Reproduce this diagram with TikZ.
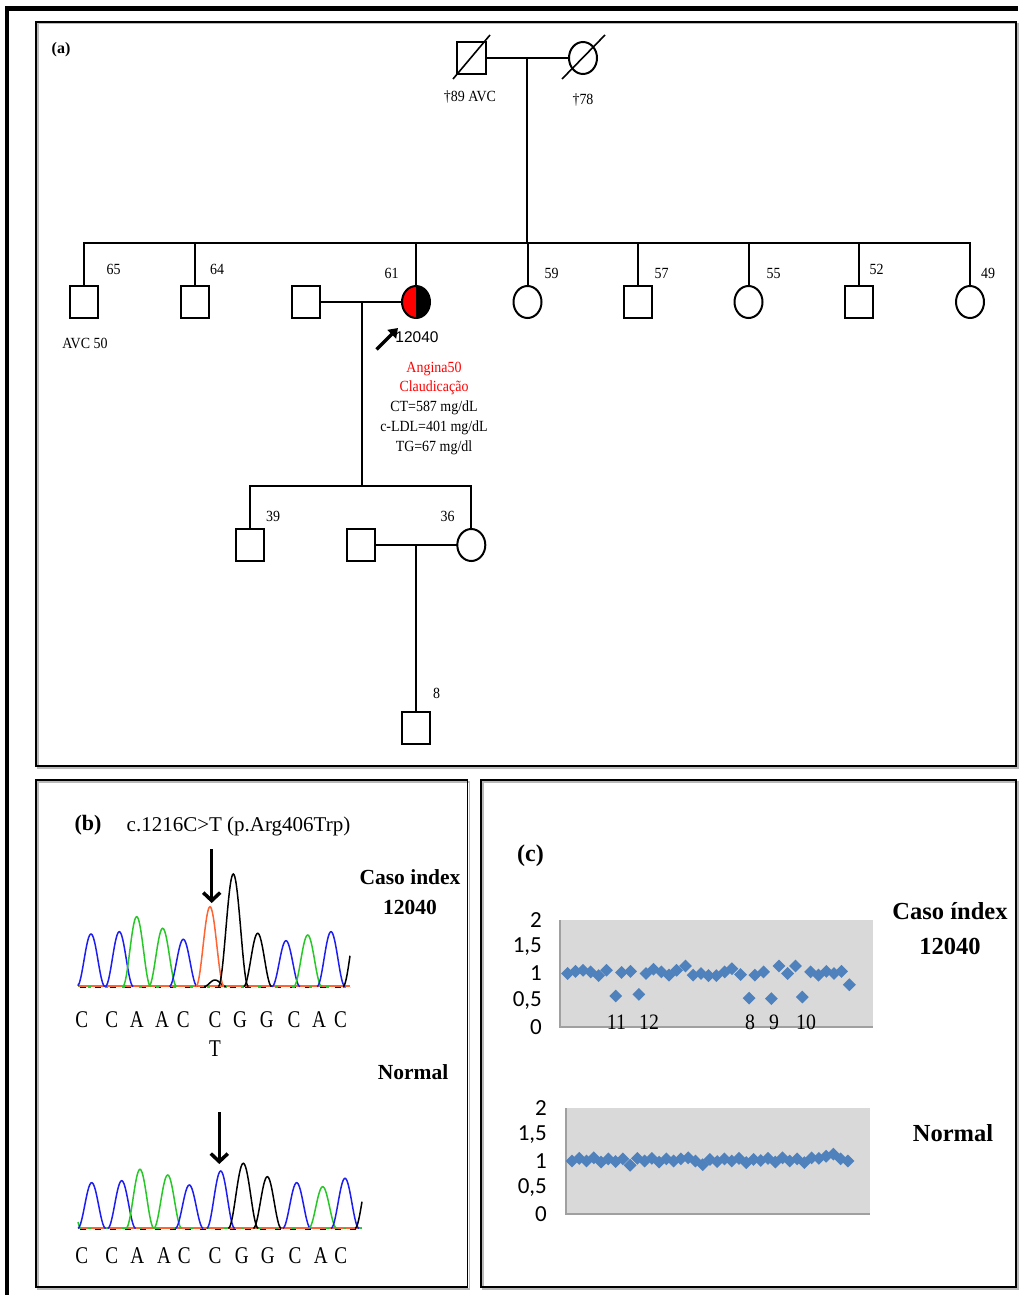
\documentclass[tikz,border=0pt]{standalone}
\usepackage{fontspec}
\setmainfont{Liberation Serif}
\newfontfamily\pedf[FakeStretch=0.9]{Liberation Serif}
\newfontfamily\seqf[FakeStretch=0.8]{Liberation Serif}
\newfontfamily\arialf{Liberation Sans}
\newfontfamily\calf{Carlito}
\usetikzlibrary{shapes.geometric,arrows.meta}
\definecolor{chrBlue}{RGB}{30,30,240}
\definecolor{chrGreen}{RGB}{40,200,40}
\definecolor{chrOrange}{RGB}{255,100,50}
\definecolor{ptBlue}{RGB}{79,129,189}
\definecolor{plotGray}{RGB}{217,217,217}
\definecolor{axGray}{RGB}{160,160,160}
% color, center, top, base, half base width, lo, hi
\newcommand{\chrpk}[7]{%
  \draw[#1, line width=1.5pt] plot[domain=#6:#7, samples=41, smooth] (\x,{#4-(#4-#3)*(cos(90*(\x-#2)/#5))^2});}
\tikzset{
  sq/.style={draw, line width=2pt, rectangle, minimum width=28pt, minimum height=32pt, inner sep=0pt},
  ci/.style={draw, line width=2pt, ellipse, minimum width=28pt, minimum height=32pt, inner sep=0pt},
  pline/.style={line width=2pt, line cap=rect},
  plab/.style={font=\pedf\fontsize{15.5}{18}\selectfont, inner sep=0pt, text height=10.5pt, text depth=3pt},
  panelbox/.style={draw, line width=1.8pt},
  panelshadow/.style={draw=gray!55, line width=1.4pt},
  bigbold/.style={font=\bfseries\fontsize{21.5}{24}\selectfont, inner sep=0pt},
  cbold/.style={font=\bfseries\fontsize{24.5}{27}\selectfont, inner sep=0pt},
  plabel/.style={font=\bfseries\fontsize{22}{24}\selectfont, inner sep=0pt},
  seq/.style={font=\seqf\fontsize{24}{26}\selectfont, inner sep=0pt},
  axl/.style={font=\calf\fontsize{23}{25}\selectfont, inner sep=0pt, anchor=east},
  exl/.style={font=\pedf\fontsize{22}{24}\selectfont, inner sep=0pt},
  dia/.style={diamond, fill=ptBlue, minimum width=13pt, minimum height=13pt, inner sep=0pt},
  bigarrow/.style={line width=3.5pt, -{Straight Barb[length=8pt,width=17pt,line width=3.5pt]}},
}
\begin{document}
\begin{tikzpicture}[x=1pt,y=-1pt]
\fill[white] (0,0) rectangle (1018,1295);
\useasboundingbox (0,0) rectangle (1018,1295);

% frames
\draw[line width=4.5pt] (7,1295) -- (7,8.5) -- (1018,8.5);
\draw[panelshadow] (37.8,23.8) rectangle (1017.8,767.8);
\draw[panelbox] (36,22) rectangle (1016,766);
\draw[panelshadow] (37.8,781.8) rectangle (469.3,1288.8);
\draw[panelbox] (36,780) rectangle (467.5,1287);
\draw[panelshadow] (482.8,781.8) rectangle (1017.8,1288.8);
\draw[panelbox] (481,780) rectangle (1016,1287);

% ===== (a) pedigree =====
\node[font=\bfseries\fontsize{16}{18}\selectfont, inner sep=0pt] (la) at (61,50) {(a)};

\node[sq, minimum width=29pt] (gf) at (471,58) {};
\node[ci] (gm) at (583,58) {};
\draw[line width=1.6pt] ([shift={(-18,21)}]gf.center) -- ([shift={(19,-23)}]gf.center);
\draw[line width=1.6pt] ([shift={(-21,21)}]gm.center) -- ([shift={(22,-23)}]gm.center);
\node[plab] (tgf) at (470,98) {†89 AVC};
\node[plab] (tgm) at (583,101) {†78};

\coordinate (m1) at (527,58);
\coordinate (sib1) at (527,243);
\draw[pline] (gf.east) -- (gm.west);
\draw[pline] (m1) -- (sib1);

\node[sq] (c65) at (84,302) {};
\node[sq] (c64) at (194.5,302) {};
\node[sq] (sp1) at (305.5,302) {};
\node[ci, path picture={\fill[red] (path picture bounding box.south west) rectangle (path picture bounding box.north);
   \fill[black] (path picture bounding box.south) rectangle (path picture bounding box.north east);}] (pb) at (416,302) {};
\node[ci] (c59) at (527.5,302) {};
\node[sq] (c57) at (638,302) {};
\node[ci] (c55) at (748.5,302) {};
\node[sq] (c52) at (859,302) {};
\node[ci] (c49) at (970,302) {};

\draw[pline] (c65.north |- sib1) -- (c49.north |- sib1);
\foreach \n in {c65,c64,pb,c57,c55,c52,c49} \draw[pline] (\n.north) -- (\n.north |- sib1);
\draw[pline] (c59.north) -- (c59.north |- sib1);

\node[plab] (a65) at (113.5,271) {65};
\node[plab] (a64) at (217,271) {64};
\node[plab] (a61) at (391.5,275) {61};
\node[plab] (a59) at (551.5,275) {59};
\node[plab] (a57) at (661.5,275) {57};
\node[plab] (a55) at (773.5,275) {55};
\node[plab] (a52) at (876.5,271) {52};
\node[plab] (a49) at (988,275) {49};
\node[plab] (avc) at (85,345) {AVC 50};

% proband
\coordinate (pa1) at (376.5,349.5);
\coordinate (pa2) at (398,328);
\draw[line width=3.5pt, -{Triangle[length=9pt,width=12pt]}] (pa1) -- (pa2);
\node[font=\arialf\fontsize{15.5}{17}\selectfont, inner sep=0pt] (pid) at (417,337) {12040};
\node[plab, text=red] (cl1) at (434,368.5) {Angina50};
\node[plab, text=red] (cl2) at (434,388) {Claudicação};
\node[plab] (cl3) at (434,407.5) {CT=587 mg/dL};
\node[plab] (cl4) at (434,427.5) {c-LDL=401 mg/dL};
\node[plab] (cl5) at (434,447.5) {TG=67 mg/dl};

% generation III
\coordinate (m2) at (361.5,302);
\coordinate (sib2) at (361.5,486);
\draw[pline] (sp1.east) -- (pb.west);
\draw[pline] (m2) -- (sib2);
\node[sq] (g39) at (250,545) {};
\node[sq] (sp2) at (360.5,545) {};
\node[ci] (d36) at (471.3,545) {};
\draw[pline] (g39.north |- sib2) -- (d36.north |- sib2);
\draw[pline] (g39.north) -- (g39.north |- sib2);
\draw[pline] (d36.north) -- (d36.north |- sib2);
\node[plab] (a39) at (273,518) {39};
\node[plab] (a36) at (447.5,518) {36};

\coordinate (m3) at (416,546);
\draw[pline] (sp2.east) -- (d36.west);
\node[sq] (s8) at (416,727.5) {};
\draw[pline] (m3) -- (s8.north);
\node[plab] (a8) at (436.5,695) {8};

% ===== (b) chromatograms =====
\node[plabel] (lb) at (88,825) {(b)};
\node[font=\fontsize{21}{23}\selectfont, inner sep=0pt] (mut) at (238.5,826) {c.1216C>T (p.Arg406Trp)};
\node[bigbold] (ci1) at (410,877) {Caso index};
\node[bigbold] (ci2) at (410,907) {12040};
\node[bigbold] (nb) at (413,1072) {Normal};

% chromatogram 1, baseline 986.5
\draw[chrOrange, line width=1.8pt] (78,986) -- (350,986);
\draw[black, line width=1.6pt, dash pattern=on 6pt off 9pt] (80,987.5) -- (350,987.5);
\draw[chrGreen, line width=1.3pt, dash pattern=on 3pt off 14pt] (88,987) -- (350,987);
\chrpk{chrGreen}{66}{930}{986.5}{14}{78}{80}
\chrpk{chrBlue}{91}{934}{986.5}{14}{78}{105}
\chrpk{chrBlue}{119.3}{931.7}{986.5}{14}{105.3}{133.3}
\chrpk{chrGreen}{136.7}{916.7}{986.5}{14}{122.7}{150.7}
\chrpk{chrGreen}{162.7}{928.3}{986.5}{14}{148.7}{176.7}
\chrpk{chrBlue}{183.3}{939.3}{986.5}{14}{169.3}{197.3}
\chrpk{black}{215}{980}{986.5}{11}{204}{226}
\chrpk{chrOrange}{210}{906.7}{986.5}{14}{196}{224}
\chrpk{black}{233.3}{874}{986.5}{15}{218.3}{248.3}
\chrpk{black}{257.7}{933.3}{986.5}{14}{243.7}{271.7}
\chrpk{chrBlue}{286}{940.7}{986.5}{14}{272}{300}
\chrpk{chrGreen}{307.7}{935}{986.5}{14}{293.7}{321.7}
\chrpk{chrBlue}{331}{931.7}{986.5}{14}{317}{345}
\chrpk{black}{357}{925}{986.5}{14}{343}{350}
\coordinate (ar1s) at (211.7,849);
\coordinate (ar1e) at (211.7,903);
\draw[bigarrow] (ar1s) -- (ar1e);
\foreach \xx/\ll [count=\k] in {81.7/C,111.7/C,136.7/A,162/A,183.3/C,215/C,240/G,266.7/G,294/C,319/A,340.5/C}
  \node[seq] (sa\k) at (\xx,1020) {\ll};
\node[seq] (sT) at (215,1049) {T};

% chromatogram 2, baseline 1228.3
\draw[chrOrange, line width=1.8pt] (78,1227.8) -- (362,1227.8);
\draw[black, line width=1.6pt, dash pattern=on 6pt off 9pt] (80,1229.3) -- (362,1229.3);
\draw[chrGreen, line width=1.3pt, dash pattern=on 3pt off 14pt] (88,1228.8) -- (362,1228.8);
\chrpk{chrGreen}{67}{1170}{1228.3}{14}{78}{81}
\chrpk{chrBlue}{91.7}{1182.7}{1228.3}{14}{78}{105.7}
\chrpk{chrBlue}{121.7}{1180.7}{1228.3}{14}{107.7}{135.7}
\chrpk{chrGreen}{140}{1169.3}{1228.3}{14}{126}{154}
\chrpk{chrGreen}{167.7}{1175}{1228.3}{14}{153.7}{181.7}
\chrpk{chrBlue}{189.3}{1185}{1228.3}{14}{175.3}{203.3}
\chrpk{chrBlue}{220.7}{1171}{1228.3}{14}{206.7}{234.7}
\chrpk{black}{243.3}{1163.3}{1228.3}{15}{228.3}{258.3}
\chrpk{black}{267.3}{1176.7}{1228.3}{14}{253.3}{281.3}
\chrpk{chrBlue}{296.7}{1182.7}{1228.3}{14}{282.7}{310.7}
\chrpk{chrGreen}{322.7}{1186.7}{1228.3}{14}{308.7}{336.7}
\chrpk{chrBlue}{345}{1178.3}{1228.3}{14}{331}{359}
\chrpk{black}{369}{1175}{1228.3}{14}{355}{362}
\coordinate (ar2s) at (219.3,1112);
\coordinate (ar2e) at (219.3,1164);
\draw[bigarrow] (ar2s) -- (ar2e);
\foreach \xx/\ll [count=\k] in {81.7/C,111.7/C,137.3/A,164/A,184.3/C,215/C,241.7/G,267.7/G,295/C,320.7/A,340.7/C}
  \node[seq] (sb\k) at (\xx,1256) {\ll};

% ===== (c) dosage plots =====
\node[font=\bfseries\fontsize{24}{26}\selectfont, inner sep=0pt] (lc) at (530.5,856) {(c)};
\node[cbold] (cc1) at (950,911) {Caso índex};
\node[cbold] (cc2) at (950,946) {12040};
\node[cbold] (nc) at (953,1133) {Normal};

% plot 1
\fill[plotGray] (560,920) rectangle (873,1027);
\draw[axGray, line width=1.3pt] (560,920) -- (560,1027) -- (873,1027);
\node[axl] (y12) at (542,920) {2};
\node[axl] (y115) at (542,946.8) {1,5};
\node[axl] (y11) at (542,973.5) {1};
\node[axl] (y105) at (542,1000.3) {0,5};
\node[axl] (y10) at (542,1027) {0};
\foreach \xx/\v [count=\k] in {567.6/1.00,575.5/1.04,583.1/1.06,590.7/1.03,598.6/0.96,606.5/1.06,615.7/0.58,621.6/1.02,630.5/1.04,638.8/0.61,646.0/1.00,653.5/1.08,661.4/1.03,669.0/0.97,676.6/1.06,685.5/1.14,693.1/0.97,701.0/1.00,708.5/0.96,716.4/0.96,724.7/1.03,731.9/1.09,740.5/0.98,749.1/0.54,754.9/0.97,763.5/1.03,771.4/0.53,779.0/1.14,787.6/1.00,795.5/1.14,802.3/0.56,810.6/1.03,818.5/0.97,826.4/1.04,834.0/1.00,841.5/1.04,849.4/0.79}
  \node[dia] (dA\k) at (\xx,{1027-\v*53.5}) {};
\node[exl] (e11) at (616.5,1022) {11};
\node[exl] (e12) at (649,1022) {12};
\node[exl] (e8) at (750,1022) {8};
\node[exl] (e9) at (774,1022) {9};
\node[exl] (e10) at (806,1022) {10};

% plot 2
\fill[plotGray] (566,1108) rectangle (870,1214);
\draw[axGray, line width=1.3pt] (566,1108) -- (566,1214) -- (870,1214);
\node[axl] (y22) at (547,1108) {2};
\node[axl] (y215) at (547,1134.5) {1,5};
\node[axl] (y21) at (547,1161) {1};
\node[axl] (y205) at (547,1187.5) {0,5};
\node[axl] (y20) at (547,1214) {0};
\foreach \v [count=\k from 0] in {1.00,1.05,1.00,1.06,0.98,1.04,0.99,1.04,0.92,1.05,1.00,1.05,0.98,1.04,1.00,1.04,1.06,1.00,0.93,1.03,0.99,1.04,1.00,1.05,0.97,1.03,1.01,1.05,0.98,1.06,1.00,1.04,0.97,1.06,1.05,1.09,1.13,1.04,1.00}
  \node[dia] (dB\k) at ({572+\k*7.26},{1214-\v*53}) {};
\end{tikzpicture}
\end{document}
